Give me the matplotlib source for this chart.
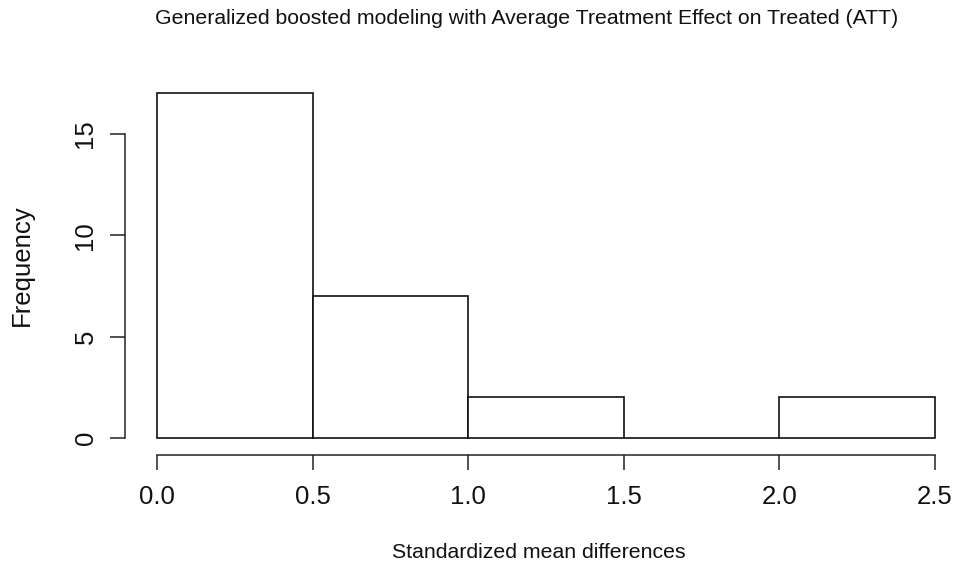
import matplotlib.pyplot as plt
import numpy as np

plt.rcParams['font.family'] = ['Liberation Sans', 'DejaVu Sans']

# histogram bins and counts
bin_edges = [0.0, 0.5, 1.0, 1.5, 2.0, 2.5]
counts = [17, 7, 2, 0, 2]
x_ticks = [0.0, 0.5, 1.0, 1.5, 2.0, 2.5]
x_tick_labels = ["0.0", "0.5", "1.0", "1.5", "2.0", "2.5"]
y_ticks = [0, 5, 10, 15]

W, H = 956, 569
fig = plt.figure(figsize=(W / 100, H / 100), dpi=100)

# axes box in pixels (left, top, right, bottom)
left_px, top_px, right_px, bottom_px = 125, 85, 945, 445
ax = fig.add_axes([left_px / W, 1 - bottom_px / H,
                   (right_px - left_px) / W, (bottom_px - top_px) / H])

px_per_x = (935 - 157) / 2.5
px_per_y = (438 - 134) / 15
ax.set_xlim(-(157 - left_px) / px_per_x, 2.5 + (right_px - 935) / px_per_x)
ax.set_ylim(-(bottom_px - 438) / px_per_y, (438 - top_px) / px_per_y)

edges = np.array(bin_edges)
ax.bar(edges[:-1], counts, width=np.diff(edges), align='edge',
       facecolor='white', edgecolor='#111111', linewidth=1.2)

line_col = '#222222'
for s in ['top', 'right']:
    ax.spines[s].set_visible(False)
ax.spines['left'].set_bounds(0, 15)
ax.spines['bottom'].set_bounds(0, 2.5)
ax.spines['bottom'].set_position(('outward', 7.2))
for s in ['left', 'bottom']:
    ax.spines[s].set_color(line_col)
    ax.spines[s].set_linewidth(1.1)

ax.set_xticks(x_ticks)
ax.set_xticklabels(x_tick_labels)
ax.set_yticks(y_ticks)
ax.set_yticklabels([str(v) for v in y_ticks], rotation=90, va='center')
ax.tick_params(axis='both', length=10.8, width=1.1, color=line_col,
               labelsize=18.5, labelcolor='#111111')
ax.tick_params(axis='x', pad=11)
ax.tick_params(axis='y', pad=9)

fig.text(22 / W, 1 - 265 / H, "Frequency", rotation=90, ha='center',
         va='center', fontsize=18.5, color='#111111')
fig.text(539 / W, 1 - 553 / H, "Standardized mean differences", ha='center',
         va='center', fontsize=15.3, color='#111111')
fig.text(527 / W, 1 - 19 / H,
         "Generalized boosted modeling with Average Treatment Effect on Treated (ATT)",
         ha='center', va='center', fontsize=15.3, color='#111111')

fig.savefig("out.png", dpi=100, facecolor='white')
